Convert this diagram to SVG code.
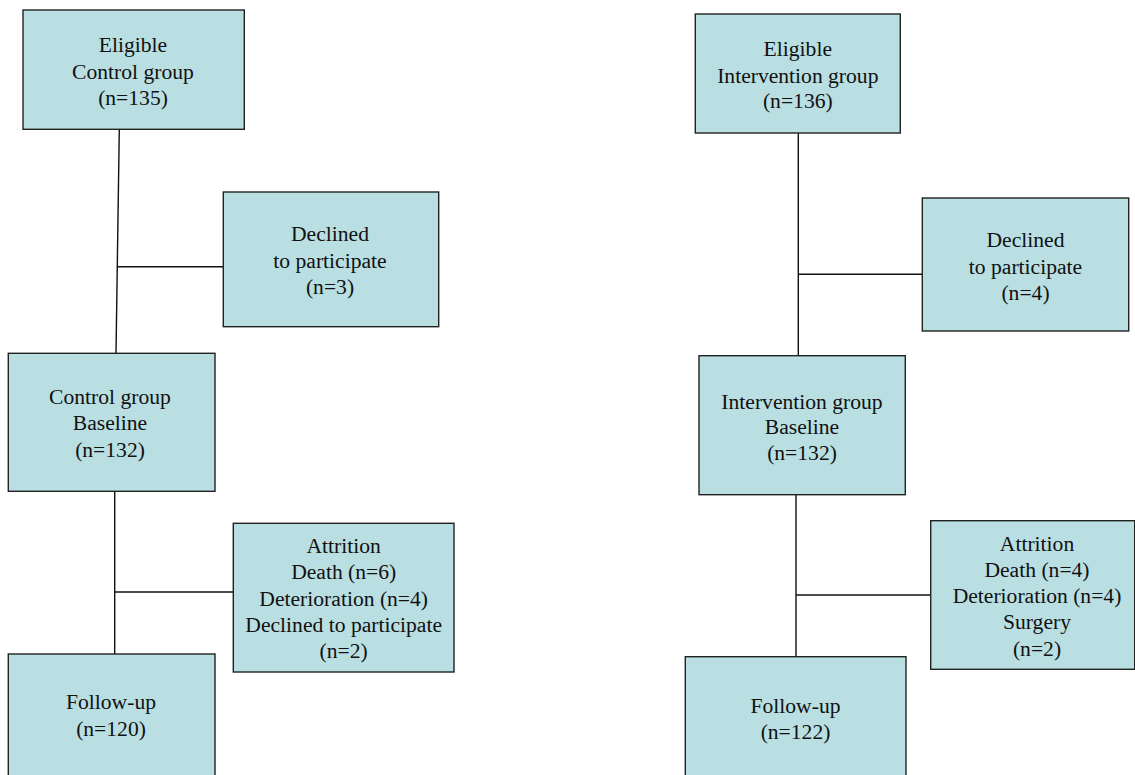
<svg xmlns="http://www.w3.org/2000/svg" width="1135" height="775" viewBox="0 0 1135 775" font-family="'Liberation Serif', 'Times New Roman', 'DejaVu Serif', serif">
<style>
.box{fill:#b9dfe2;stroke:#222;stroke-width:1.4}
.t{font-family:'Liberation Serif','Times New Roman','DejaVu Serif',serif;font-size:21.6px;fill:#111;text-anchor:middle}
.c{stroke:#111;stroke-width:1.4;fill:none}
</style>
<rect width="1135" height="775" fill="#fff"/>
<g id="connectors">
<path class="c" d="M119.3,129.5 L116,353.5"/>
<path class="c" d="M118,266.7 L223.3,266.7"/>
<path class="c" d="M114.7,491.5 L114.7,654"/>
<path class="c" d="M114.7,592 L233.3,592"/>
<path class="c" d="M798.3,133 L798.3,356"/>
<path class="c" d="M798.3,274.3 L922.3,274.3"/>
<path class="c" d="M796,494.7 L796,656.7"/>
<path class="c" d="M796,595 L930.7,595"/>
</g>
<g id="eligible-control">
<rect class="box" x="23" y="10" width="221.3" height="119.3"/>
<text class="t" x="133" y="52">Eligible</text>
<text class="t" x="133" y="78.5">Control group</text>
<text class="t" x="133" y="104.5">(n=135)</text>
</g>
<g id="declined-control">
<rect class="box" x="223.3" y="192" width="215.4" height="134.7"/>
<text class="t" x="330" y="240.7">Declined</text>
<text class="t" x="330" y="267.5">to participate</text>
<text class="t" x="330" y="294">(n=3)</text>
</g>
<g id="baseline-control">
<rect class="box" x="8.3" y="353.3" width="206.7" height="138"/>
<text class="t" x="110" y="404">Control group</text>
<text class="t" x="110" y="430">Baseline</text>
<text class="t" x="110" y="456.5">(n=132)</text>
</g>
<g id="attrition-control">
<rect class="box" x="233.3" y="523.3" width="220.7" height="148.7"/>
<text class="t" x="343.7" y="553.3">Attrition</text>
<text class="t" x="343.7" y="579.3">Death (n=6)</text>
<text class="t" x="343.7" y="605.7">Deterioration (n=4)</text>
<text class="t" x="343.7" y="631.7">Declined to participate</text>
<text class="t" x="343.7" y="657.7">(n=2)</text>
</g>
<g id="followup-control">
<rect class="box" x="8.3" y="654" width="206.7" height="130"/>
<text class="t" x="111" y="709.3">Follow-up</text>
<text class="t" x="111" y="736">(n=120)</text>
</g>
<g id="eligible-intervention">
<rect class="box" x="695.3" y="14" width="205" height="119"/>
<text class="t" x="797.8" y="56">Eligible</text>
<text class="t" x="797.8" y="82.5">Intervention group</text>
<text class="t" x="797.8" y="108.3">(n=136)</text>
</g>
<g id="declined-intervention">
<rect class="box" x="922.3" y="198" width="206.4" height="133"/>
<text class="t" x="1025.5" y="247.3">Declined</text>
<text class="t" x="1025.5" y="274">to participate</text>
<text class="t" x="1025.5" y="300">(n=4)</text>
</g>
<g id="baseline-intervention">
<rect class="box" x="699" y="355.7" width="206.3" height="139"/>
<text class="t" x="802" y="409">Intervention group</text>
<text class="t" x="802" y="434.3">Baseline</text>
<text class="t" x="802" y="460">(n=132)</text>
</g>
<g id="attrition-intervention">
<rect class="box" x="930.7" y="520.7" width="204" height="148.6"/>
<text class="t" x="1037" y="550.7">Attrition</text>
<text class="t" x="1037" y="576.7">Death (n=4)</text>
<text class="t" x="1037" y="603.3">Deterioration (n=4)</text>
<text class="t" x="1037" y="629.3">Surgery</text>
<text class="t" x="1037" y="656">(n=2)</text>
</g>
<g id="followup-intervention">
<rect class="box" x="685.3" y="656.7" width="220.7" height="130"/>
<text class="t" x="795.5" y="712.7">Follow-up</text>
<text class="t" x="795.5" y="739">(n=122)</text>
</g>
</svg>
